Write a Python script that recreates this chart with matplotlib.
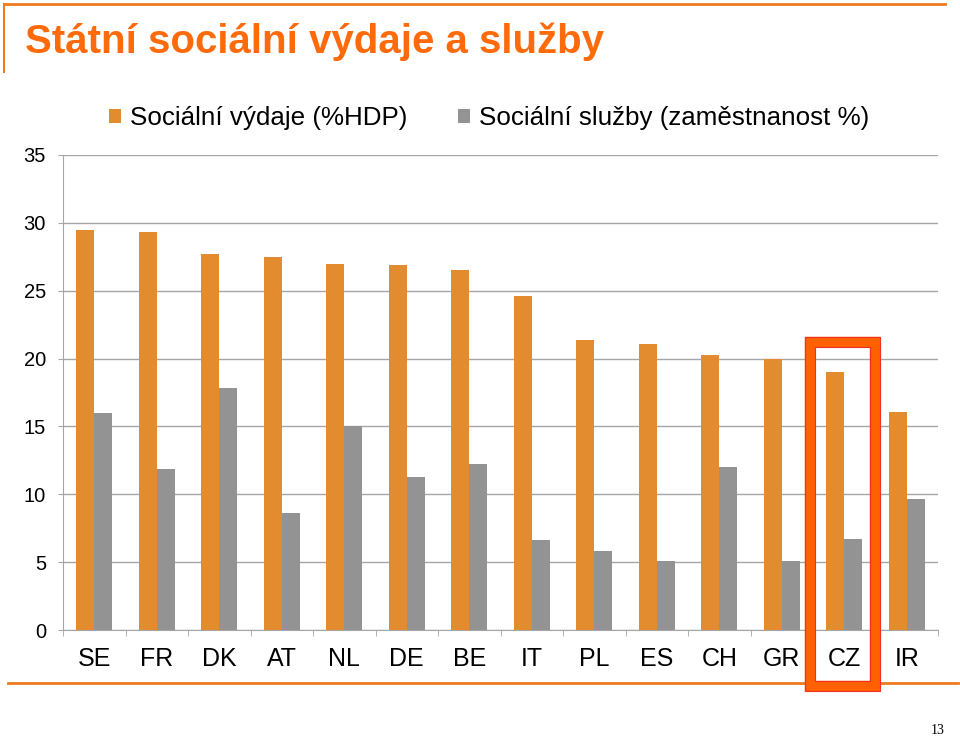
import matplotlib
matplotlib.use("Agg")
import matplotlib.pyplot as plt
import numpy as np
from matplotlib.patches import Rectangle
from matplotlib.lines import Line2D
import matplotlib.transforms as mtransforms

countries = ["SE", "FR", "DK", "AT", "NL", "DE", "BE", "IT", "PL", "ES", "CH", "GR", "CZ", "IR"]
social_spending = [29.5, 29.3, 27.7, 27.5, 27.0, 26.9, 26.5, 24.6, 21.4, 21.1, 20.3, 20.0, 19.0, 16.1]
social_services = [16.0, 11.9, 17.8, 8.6, 15.0, 11.3, 12.2, 6.6, 5.8, 5.1, 12.0, 5.1, 6.7, 9.65]
yticks = [0, 5, 10, 15, 20, 25, 30, 35]
label_a = "Sociální výdaje (%HDP)"
label_b = "Sociální služby (zaměstnanost %)"
title = "Státní sociální výdaje a služby"
highlight = "CZ"

ORANGE = "#E38B2F"
GRAY = "#939393"
TITLE_C = "#FF6A0A"
LINE_C = "#F07A1E"

fig = plt.figure(figsize=(9.6, 7.37), dpi=100)
ax = fig.add_axes([63/960, 1-630/737, 875/960, 475/737])

x = np.arange(len(countries))
w = 0.29
ax.bar(x - w/2, social_spending, w, color=ORANGE, label=label_a, zorder=3)
ax.bar(x + w/2, social_services, w, color=GRAY, label=label_b, zorder=3)

ax.set_xlim(-0.5, len(countries) - 0.5)
ax.set_ylim(0, 35)
ax.set_yticks(yticks)
ax.set_yticklabels([str(t) for t in yticks], fontsize=14.5, family="Liberation Sans")
ax.yaxis.grid(True, color="#A6A6A6", linewidth=1, zorder=0)
ax.tick_params(axis="y", length=3.6, color="#A6A6A6", pad=8.6)

ax.set_xticks(x)
ax.set_xticklabels(countries, fontsize=18, family="Liberation Sans")
ax.tick_params(axis="x", length=0, pad=12.5)
ax.set_xticks(np.arange(-0.5, len(countries)), minor=True)
ax.tick_params(axis="x", which="minor", length=4.5, color="#A6A6A6")

for s in ["top", "right"]:
    ax.spines[s].set_visible(False)
ax.spines["left"].set_color("#A6A6A6")
ax.spines["bottom"].set_color("#A6A6A6")

leg = fig.legend(loc="center left", bbox_to_anchor=(86/960, 1-118/737), ncol=2,
                 frameon=False, handlelength=0.46, handleheight=0.46,
                 handletextpad=0.35, columnspacing=1.92,
                 prop={"family": "Liberation Sans", "size": 18.7})

fig.text(25/960, 1-42/737, title, color=TITLE_C, fontsize=29, fontweight="bold",
         family="Liberation Sans", va="center", ha="left")

# decorative orange lines
fig.add_artist(Line2D([5/960, 945/960], [1-4/737, 1-4/737], color=LINE_C, lw=2))
fig.add_artist(Line2D([4/960, 4/960], [1-4/737, 1-72/737], color=LINE_C, lw=1.5))
fig.add_artist(Line2D([8/960, 958/960], [1-683/737, 1-683/737], color=LINE_C, lw=2))

fig.text(945/960, 1-730/737, "13", fontsize=10, family="Liberation Serif", ha="right", va="center")

# highlight rectangle around CZ
idx = countries.index(highlight)
trans = mtransforms.blended_transform_factory(ax.transData, fig.transFigure)
px = 1/62.5
rx0 = (810 - 63) / 62.5 - 0.5
rw = 65 * px
ry0 = 1 - 686/737
rh = (686 - 342) / 737
rect = Rectangle((rx0, ry0), rw, rh, transform=trans, fill=False,
                 edgecolor="#FF6000", linewidth=7.5, clip_on=False, zorder=10)
fig.add_artist(rect)
o = 5
rect2 = Rectangle((rx0 - o*px, ry0 - o/737), rw + 2*o*px, rh + 2*o/737, transform=trans, fill=False,
                  edgecolor="#F03020", linewidth=0.8, clip_on=False, zorder=11)
fig.add_artist(rect2)
rect3 = Rectangle((rx0 + o*px, ry0 + o/737), rw - 2*o*px, rh - 2*o/737, transform=trans, fill=False,
                  edgecolor="#F03020", linewidth=0.8, clip_on=False, zorder=11)
fig.add_artist(rect3)

fig.savefig("out.png", dpi=100)
